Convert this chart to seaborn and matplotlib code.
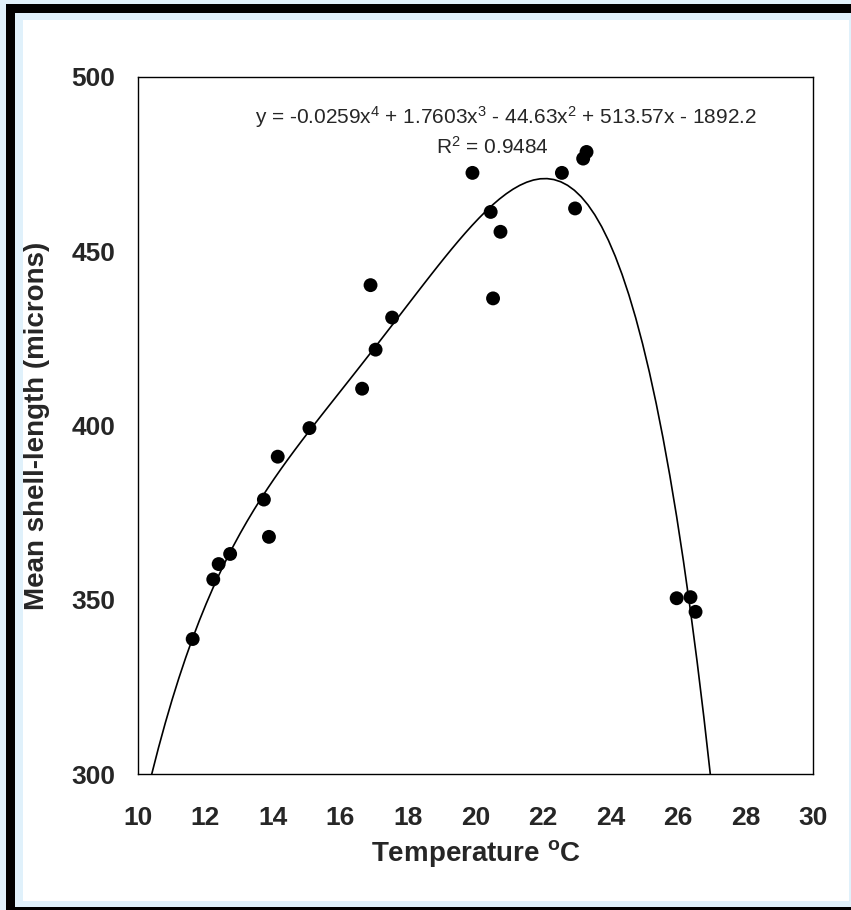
import matplotlib
matplotlib.use("Agg")
import matplotlib.pyplot as plt
import pandas as pd
import seaborn as sns
from matplotlib.patches import Rectangle

# Data
temperature = [11.62, 12.23, 12.39, 12.73, 13.88, 13.73, 14.14, 15.08, 16.64, 17.04,
               17.53, 16.89, 19.91, 20.45, 20.74, 20.52, 22.56, 22.95, 23.19, 23.29,
               25.96, 26.37, 26.52]
shell_length = [338.8, 355.9, 360.3, 363.2, 368.1, 378.8, 391.1, 399.3, 410.6, 421.8,
                431.0, 440.3, 472.5, 461.3, 455.6, 436.5, 472.5, 462.3, 476.6, 478.5,
                350.5, 350.8, 346.6]

equation = r"y = -0.0259x$^{4}$ + 1.7603x$^{3}$ - 44.63x$^{2}$ + 513.57x - 1892.2"
r_squared = "0.9484"

x_ticks = [10, 12, 14, 16, 18, 20, 22, 24, 26, 28, 30]
y_ticks = [300, 350, 400, 450, 500]

sns.set_style("white")
plt.rcParams["font.family"] = ["Liberation Sans", "DejaVu Sans"]
plt.rcParams["mathtext.fontset"] = "custom"
plt.rcParams["mathtext.rm"] = "Liberation Sans"
plt.rcParams["mathtext.it"] = "Liberation Sans:italic"
plt.rcParams["mathtext.bf"] = "Liberation Sans:bold"

W, H = 851, 910
fig = plt.figure(figsize=(W / 100, H / 100), dpi=100)
light_blue = "#E0F1FB"
fig.patch.set_facecolor(light_blue)


def px_rect(x0, y0, x1, y1, color):
    # pixel box (top-left origin) -> figure fraction rectangle
    fig.add_artist(Rectangle((x0 / W, 1 - y1 / H), (x1 - x0) / W, (y1 - y0) / H,
                             transform=fig.transFigure, facecolor=color,
                             edgecolor="none", zorder=-10))


px_rect(6, 4, 900, 950, "black")
px_rect(15, 13, 900, 907, light_blue)
px_rect(23, 20, 849, 901, "white")

ax = fig.add_axes([138 / W, 1 - 774.3 / H, 675 / W, 697.3 / H])
ax.set_facecolor("white")
ax.set_xlim(10, 30)
ax.set_ylim(300, 500)

df = pd.DataFrame({"temp": temperature, "length": shell_length})

# 4th order polynomial trendline over the full x axis
sns.regplot(data=df, x="temp", y="length", order=4, ci=None, truncate=False,
            scatter=False, line_kws={"color": "black", "linewidth": 1.2}, ax=ax)
sns.scatterplot(data=df, x="temp", y="length", color="black", s=100,
                edgecolor="none", ax=ax, zorder=3)

ax.set_xlim(10, 30)
ax.set_ylim(300, 500)
ax.set_xticks(x_ticks)
ax.set_yticks(y_ticks)
ax.tick_params(axis="both", direction="out", length=6.5, width=1, color="black",
               labelsize=19)
ax.tick_params(axis="x", pad=16)
ax.tick_params(axis="y", pad=10)
for lab in ax.get_xticklabels() + ax.get_yticklabels():
    lab.set_fontweight("bold")
for sp in ax.spines.values():
    sp.set_color("black")
    sp.set_linewidth(1)
    sp.set_visible(True)

ax.set_xlabel(r"Temperature $^{\mathbf{o}}$C", fontsize=20, fontweight="bold", labelpad=6)
ax.set_ylabel("Mean shell-length (microns)", fontsize=20, fontweight="bold", labelpad=15)

ax.text(20.9, 488.4, equation, fontsize=15, ha="center", va="center")
ax.text(20.49, 479.9, r"R$^{2}$ = " + r_squared, fontsize=15, ha="center", va="center")

fig.savefig("out.png", dpi=100, facecolor=fig.get_facecolor())
